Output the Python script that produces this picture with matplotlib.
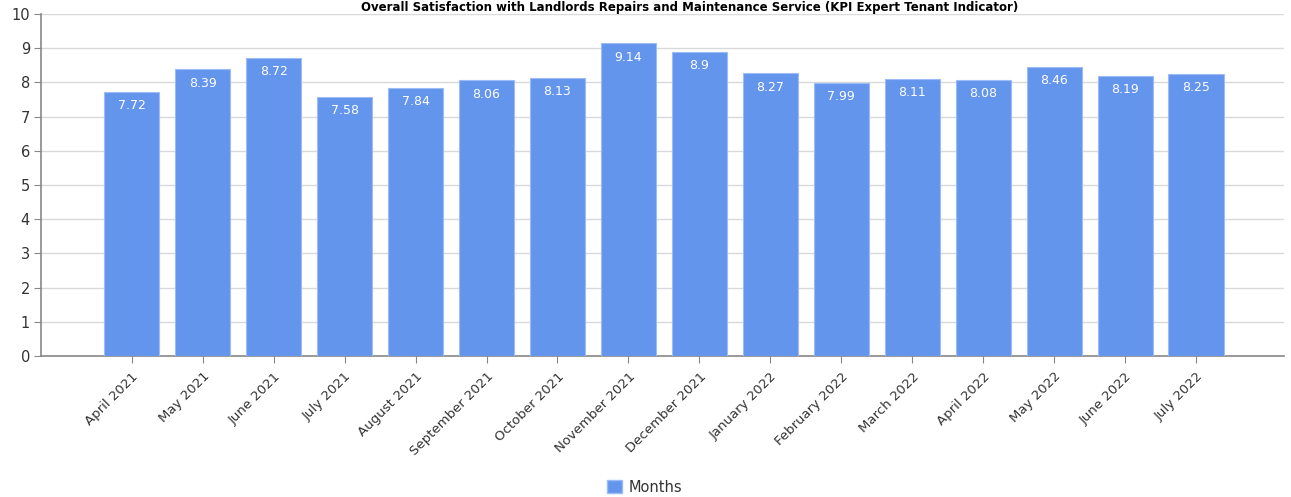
import matplotlib
matplotlib.use("Agg")
import matplotlib.pyplot as plt
from matplotlib.patches import Patch

months = ["April 2021", "May 2021", "June 2021", "July 2021", "August 2021",
          "September 2021", "October 2021", "November 2021", "December 2021",
          "January 2022", "February 2022", "March 2022", "April 2022",
          "May 2022", "June 2022", "July 2022"]
values = [7.72, 8.39, 8.72, 7.58, 7.84, 8.06, 8.13, 9.14, 8.9, 8.27,
          7.99, 8.11, 8.08, 8.46, 8.19, 8.25]
series_name = "Months"
title = "Overall Satisfaction with Landlords Repairs and Maintenance Service (KPI Expert Tenant Indicator)"

W, H = 1291, 497
fig = plt.figure(figsize=(W / 100, H / 100), dpi=100)
ax = fig.add_axes([41 / W, 1 - 356 / H, (1284 - 41) / W, (356 - 14) / H])

x = list(range(len(months)))
bars = ax.bar(x, values, width=0.776, color="#6495ED", edgecolor="#9dbcf5",
              linewidth=0.8, zorder=3)
for xi, v in zip(x, values):
    ax.annotate(f"{v:g}", (xi, v), xytext=(0, -14), textcoords="offset pixels",
                ha="center", va="center", color="white", fontsize=9, zorder=4)

ax.set_xlim(-1.28, 16.24)
ax.set_ylim(0, 10)
ax.set_yticks(range(0, 11))
ax.yaxis.grid(True, color="#d9d9d9", linewidth=1, zorder=0)
ax.set_axisbelow(True)
ax.set_xticks(x)
ax.set_xticklabels(months, rotation=45, ha="right", rotation_mode="anchor",
                   fontsize=9.5, color="#333333")
ax.tick_params(axis="x", length=5, color="#888888", pad=5)
ax.tick_params(axis="y", length=5, color="#888888", labelsize=10.5, labelcolor="#333333", pad=3)
for s in ["top", "right"]:
    ax.spines[s].set_visible(False)
for s in ["left", "bottom"]:
    ax.spines[s].set_color("#888888")
    ax.spines[s].set_linewidth(1.2)

fig.text(690 / W, 1 - 1 / H, title, ha="center", va="top",
         fontsize=8.5, fontweight="bold", color="#000000")

fig.legend(handles=[Patch(facecolor="#6495ED", edgecolor="#9dbcf5", label=series_name)],
           loc="center", bbox_to_anchor=(645 / W, 1 - 487 / H), frameon=False,
           fontsize=10.5, handlelength=1.0, handleheight=1.0, handletextpad=0.5,
           labelcolor="#333333")

fig.savefig("out.png", dpi=100)
